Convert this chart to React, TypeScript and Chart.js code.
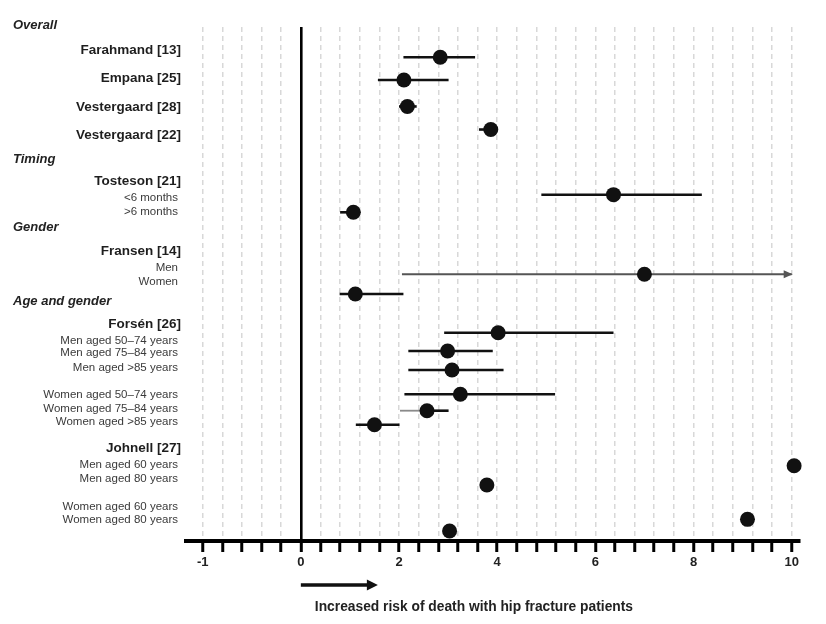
import { useEffect, useRef } from 'react';
import { Chart, registerables } from 'chart.js';

Chart.register(...registerables);

const FONT = '"Liberation Sans", Arial, Helvetica, sans-serif';

// ---- left-hand labels (row positions on the vertical axis, 0 = top of plot) ----
const LABEL_TEXTS = [
  'Overall',
  'Farahmand [13]',
  'Empana [25]',
  'Vestergaard [28]',
  'Vestergaard [22]',
  'Timing',
  'Tosteson [21]',
  '<6 months',
  '>6 months',
  'Gender',
  'Fransen [14]',
  'Men',
  'Women',
  'Age and gender',
  'Forsén [26]',
  'Men aged 50–74 years',
  'Men aged 75–84 years',
  'Men aged >85 years',
  'Women aged 50–74 years',
  'Women aged 75–84 years',
  'Women aged >85 years',
  'Johnell [27]',
  'Men aged 60 years',
  'Men aged 80 years',
  'Women aged 60 years',
  'Women aged 80 years',
];
const LABEL_KINDS = [
  'header', 'study', 'study', 'study', 'study',
  'header', 'study', 'sub', 'sub',
  'header', 'study', 'sub', 'sub',
  'header', 'study', 'sub', 'sub', 'sub', 'sub', 'sub', 'sub',
  'study', 'sub', 'sub', 'sub', 'sub',
];
const LABEL_ROWS = [
  -0.14, 1.66, 3.72, 5.78, 7.8,
  9.5, 11.09, 12.33, 13.3,
  14.45, 16.12, 17.33, 18.33,
  19.77, 21.4, 22.6, 23.45, 24.5, 26.51, 27.48, 28.41,
  30.33, 31.53, 32.56, 34.57, 35.49,
];

// ---- estimates with confidence intervals ----
const POINT_NAMES = [
  'Farahmand', 'Empana', 'Vestergaard 28', 'Vestergaard 22',
  'Tosteson <6m', 'Tosteson >6m',
  'Fransen men', 'Fransen women',
  'Forsén M50-74', 'Forsén M75-84', 'Forsén M>85',
  'Forsén W50-74', 'Forsén W75-84', 'Forsén W>85',
  'Johnell M60', 'Johnell M80', 'Johnell W60', 'Johnell W80',
];
const POINT_ROWS = [
  2.18, 3.82, 5.72, 7.38,
  12.07, 13.34,
  17.8, 19.22,
  22.01, 23.32, 24.69,
  26.44, 27.62, 28.63,
  31.58, 32.97, 35.44, 36.28,
];
const ESTIMATES = [
  2.84, 2.1, 2.17, 3.87,
  6.37, 1.07,
  7.0, 1.11,
  4.02, 2.99, 3.08,
  3.25, 2.57, 1.5,
  10.05, 3.79, 9.1, 3.03,
];
const CI_LOWER: (number | null)[] = [
  2.09, 1.57, 2.0, 3.63,
  4.9, 0.8,
  2.06, 0.79,
  2.92, 2.19, 2.19,
  2.11, 2.02, 1.12,
  null, null, null, null,
];
const CI_UPPER: (number | null)[] = [
  3.55, 3.01, 2.36, 3.99,
  8.17, 1.08,
  10.0, 2.09,
  6.37, 3.91, 4.13,
  5.18, 3.01, 2.01,
  null, null, null, null,
];
const CI_OPEN_ENDED = [
  false, false, false, false,
  false, false,
  true, false,
  false, false, false,
  false, false, false,
  false, false, false, false,
];

// ---- x axis ----
const X_MIN = -2.34;
const X_MAX = 10.17;
const X_TICK_START = -2;
const X_TICK_END = 10;
const X_TICK_STEP = 0.4;
const X_LABEL_VALUES = [-2, 0, 2, 4, 6, 8, 10];
const X_LABEL_TEXTS = ['-1', '0', '2', '4', '6', '8', '10'];
const X_CAPTION = 'Increased risk of death with hip fracture patients';
const Y_MAX = 37;

const INK = '#111111';
const GREY_LINE = '#555555';
const LIGHT_GREY_LINE = '#8a8a8a';

function buildDatasets() {
  const sets: any[] = [];
  sets.push({
    label: 'estimates',
    data: ESTIMATES.map((e, i) => ({ x: e, y: POINT_ROWS[i] })),
    pointRadius: 7.5,
    pointHoverRadius: 7.5,
    backgroundColor: INK,
    borderWidth: 0,
    showLine: false,
    clip: false,
  });
  ESTIMATES.forEach((est, i) => {
    const lo = CI_LOWER[i];
    const hi = CI_UPPER[i];
    if (lo == null || hi == null) return;
    const base = {
      showLine: true,
      pointRadius: 0,
      pointHoverRadius: 0,
      borderWidth: 2.6,
      borderColor: INK,
      clip: false,
    };
    if (POINT_NAMES[i] === 'Forsén W75-84') {
      sets.push({ ...base, label: POINT_NAMES[i] + ' lo', borderColor: LIGHT_GREY_LINE, borderWidth: 1.8,
        data: [{ x: lo, y: POINT_ROWS[i] }, { x: est, y: POINT_ROWS[i] }] });
      sets.push({ ...base, label: POINT_NAMES[i] + ' hi',
        data: [{ x: est, y: POINT_ROWS[i] }, { x: hi, y: POINT_ROWS[i] }] });
    } else if (CI_OPEN_ENDED[i]) {
      sets.push({ ...base, label: POINT_NAMES[i], borderColor: GREY_LINE, borderWidth: 2,
        data: [{ x: lo, y: POINT_ROWS[i] }, { x: hi, y: POINT_ROWS[i] }] });
    } else {
      sets.push({ ...base, label: POINT_NAMES[i],
        data: [{ x: lo, y: POINT_ROWS[i] }, { x: hi, y: POINT_ROWS[i] }] });
    }
  });
  return sets;
}

const forestText = {
  id: 'forestText',
  afterDraw(chart: any) {
    const { ctx, scales } = chart;
    const x = scales.x;
    const y = scales.y;
    ctx.save();
    ctx.textBaseline = 'middle';
    LABEL_TEXTS.forEach((text, i) => {
      const kind = LABEL_KINDS[i];
      const py = y.getPixelForValue(LABEL_ROWS[i]);
      if (kind === 'header') {
        ctx.font = `italic bold 13px ${FONT}`;
        ctx.fillStyle = '#222';
        ctx.textAlign = 'left';
        ctx.fillText(text, 13, py);
      } else if (kind === 'study') {
        ctx.font = `bold 13.5px ${FONT}`;
        ctx.fillStyle = '#1e1e1e';
        ctx.textAlign = 'right';
        ctx.fillText(text, 181, py);
      } else {
        ctx.font = `11.5px ${FONT}`;
        ctx.fillStyle = '#3a3a3a';
        ctx.textAlign = 'right';
        ctx.fillText(text, 178, py);
      }
    });

    // arrowheads for open-ended intervals
    ctx.fillStyle = GREY_LINE;
    CI_OPEN_ENDED.forEach((open, i) => {
      const hi = CI_UPPER[i];
      if (!open || hi == null) return;
      const tip = x.getPixelForValue(hi) + 1;
      const py = y.getPixelForValue(POINT_ROWS[i]);
      ctx.beginPath();
      ctx.moveTo(tip, py);
      ctx.lineTo(tip - 9, py - 4);
      ctx.lineTo(tip - 9, py + 4);
      ctx.closePath();
      ctx.fill();
    });

    // direction arrow under the axis
    const x0 = x.getPixelForValue(0);
    const ay = x.top + 44;
    ctx.strokeStyle = INK;
    ctx.fillStyle = INK;
    ctx.lineWidth = 3.5;
    ctx.beginPath();
    ctx.moveTo(x0, ay);
    ctx.lineTo(x0 + 68, ay);
    ctx.stroke();
    ctx.beginPath();
    ctx.moveTo(x0 + 77, ay);
    ctx.lineTo(x0 + 66, ay - 5.5);
    ctx.lineTo(x0 + 66, ay + 5.5);
    ctx.closePath();
    ctx.fill();

    ctx.font = `bold 13.8px ${FONT}`;
    ctx.fillStyle = '#222';
    ctx.textAlign = 'left';
    ctx.fillText(X_CAPTION, x0 + 14, x.top + 66);
    ctx.restore();
  },
};

export default function App() {
  const canvasRef = useRef<HTMLCanvasElement | null>(null);

  useEffect(() => {
    if (!canvasRef.current) return;
    const chart = new Chart(canvasRef.current, {
      type: 'scatter',
      data: { datasets: buildDatasets() },
      options: {
        animation: false,
        responsive: false,
        devicePixelRatio: 1,
        layout: { padding: { left: 186, right: 26, top: 27, bottom: 0 } },
        plugins: {
          legend: { display: false },
          tooltip: { enabled: false },
          title: { display: false },
        },
        scales: {
          x: {
            type: 'linear',
            position: 'bottom',
            min: X_MIN,
            max: X_MAX,
            afterBuildTicks: (scale: any) => {
              const ticks: { value: number }[] = [];
              const n = Math.round((X_TICK_END - X_TICK_START) / X_TICK_STEP);
              for (let k = 0; k <= n; k++) {
                ticks.push({ value: Math.round((X_TICK_START + k * X_TICK_STEP) * 10) / 10 });
              }
              scale.ticks = ticks;
            },
            afterFit: (scale: any) => {
              scale.height = 83;
            },
            ticks: {
              autoSkip: false,
              maxRotation: 0,
              padding: 3,
              color: '#222',
              font: { family: FONT, size: 13, weight: 'bold' },
              callback: (value: any) => {
                const idx = X_LABEL_VALUES.findIndex((v) => Math.abs(v - Number(value)) < 1e-6);
                return idx >= 0 ? X_LABEL_TEXTS[idx] : '';
              },
            },
            grid: {
              color: (ctx: any) => (ctx.tick && ctx.tick.value === 0 ? '#000' : '#d8d8d8'),
              lineWidth: (ctx: any) => (ctx.tick && ctx.tick.value === 0 ? 2.6 : 1.5),
              tickColor: '#000',
              tickWidth: 3,
              tickLength: 11,
              tickBorderDash: [],
            },
            border: {
              display: true,
              color: '#000',
              width: 4,
              dash: (ctx: any) => (ctx.tick && ctx.tick.value === 0 ? [] : [5, 4]),
            },
          },
          y: {
            type: 'linear',
            display: false,
            reverse: true,
            min: 0,
            max: Y_MAX,
          },
        },
      } as any,
      plugins: [forestText],
    });
    return () => chart.destroy();
  }, []);

  return (
    <div style={{ position: 'fixed', left: 0, top: 0, width: 826, height: 624, background: '#fff' }}>
      <canvas ref={canvasRef} width={826} height={624} style={{ display: 'block' }} />
    </div>
  );
}
